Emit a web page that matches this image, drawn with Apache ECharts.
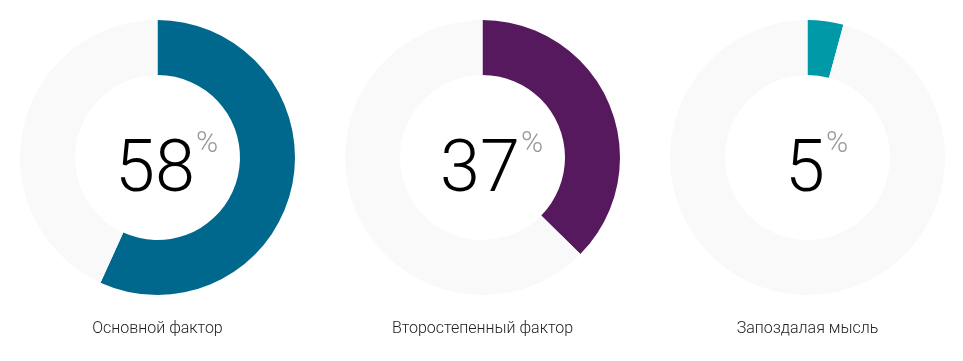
<!DOCTYPE html>
<html>
<head>
<meta charset="utf-8">
<script src="https://cdn.jsdelivr.net/npm/echarts@6/dist/echarts.min.js"></script>
<style>
html,body{margin:0;padding:0;background:#fff;}
#chart{width:963px;height:361px;}
</style>
</head>
<body>
<div id="chart"></div>
<script>
// Data
var categories = ['Основной фактор', 'Второстепенный фактор', 'Запоздалая мысль'];
var percentLabels = [58, 37, 5];          // numbers printed in the centre
var arcValues = [56.8, 37.4, 4.2];        // share of the ring as drawn (read from the arcs)
var totals = [100, 100, 100];
var colors = ['#00688D', '#56195E', '#0099A8'];
var trackColor = '#F9F9F9';

// Layout
var centersX = [157.5, 482.5, 807.5];
var centerY = 157.5;
var innerR = 82.5, outerR = 137.5;

var chart = echarts.init(document.getElementById('chart'), null, {renderer: 'canvas'});

var ctx = document.createElement('canvas').getContext('2d');
var numFont = '300 72px Roboto';
ctx.font = numFont;

var series = [], titles = [], graphics = [];
categories.forEach(function (name, i) {
  series.push({
    type: 'pie',
    center: [centersX[i], centerY],
    radius: [innerR, outerR],
    startAngle: 90,
    clockwise: true,
    silent: true,
    label: {show: false},
    labelLine: {show: false},
    emphasis: {disabled: true},
    data: [
      {value: arcValues[i], name: name, itemStyle: {color: colors[i]}},
      {value: totals[i] - arcValues[i], name: '', itemStyle: {color: trackColor}}
    ]
  });
  titles.push({
    text: name,
    left: centersX[i],
    top: 321,
    padding: 0,
    textAlign: 'center',
    textStyle: {fontFamily: 'Roboto', fontSize: 16, fontWeight: 300, color: '#222'}
  });
  var numText = String(percentLabels[i]);
  var w = ctx.measureText(numText).width;
  var nx = centersX[i] - 2.5;
  graphics.push({
    type: 'text',
    x: nx, y: 173,
    silent: true,
    style: {text: numText, font: numFont, fill: '#000', align: 'center', verticalAlign: 'middle'}
  });
  graphics.push({
    type: 'text',
    x: nx + w / 2 + 1, y: 144,
    silent: true,
    style: {text: '%', font: '300 30px Roboto', fill: '#999', align: 'left', verticalAlign: 'middle'}
  });
});

chart.setOption({
  animation: false,
  backgroundColor: '#fff',
  title: titles,
  series: series,
  graphic: graphics
});
</script>
</body>
</html>
